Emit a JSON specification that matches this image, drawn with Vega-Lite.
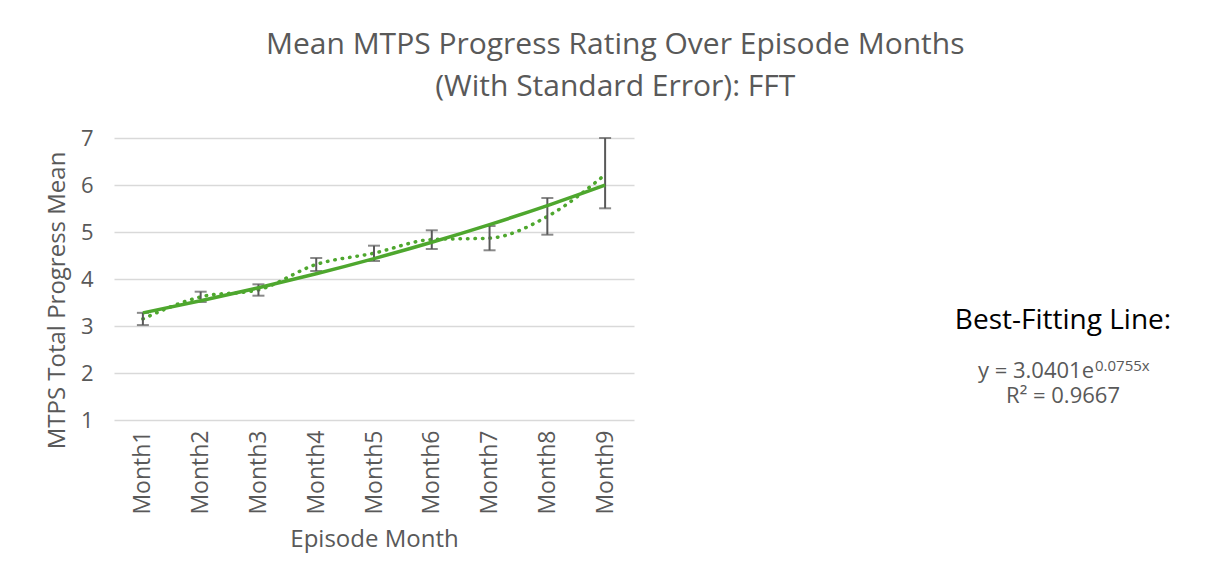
{
  "$schema": "https://vega.github.io/schema/vega-lite/v6.json",
  "background": "white",
  "padding": {"left": 45, "top": 30, "right": 0, "bottom": 12},
  "title": {
    "text": ["Mean MTPS Progress Rating Over Episode Months", "(With Standard Error): FFT"],
    "font": "Open Sans",
    "fontSize": 30,
    "fontWeight": "normal",
    "color": "#595959",
    "anchor": "middle",
    "lineHeight": 42,
    "offset": 25,
    "dx": -14
  },
  "datasets": {
    "months": [
      {"month": "Month1", "mean": 3.15, "lo": 3.02, "hi": 3.28, "trend": 3.2785},
      {"month": "Month2", "mean": 3.62, "lo": 3.51, "hi": 3.73, "trend": 3.5356},
      {"month": "Month3", "mean": 3.77, "lo": 3.645, "hi": 3.887, "trend": 3.8129},
      {"month": "Month4", "mean": 4.31, "lo": 4.17, "hi": 4.447, "trend": 4.1119},
      {"month": "Month5", "mean": 4.55, "lo": 4.383, "hi": 4.709, "trend": 4.4343},
      {"month": "Month6", "mean": 4.84, "lo": 4.638, "hi": 5.036, "trend": 4.782},
      {"month": "Month7", "mean": 4.87, "lo": 4.611, "hi": 5.128, "trend": 5.157},
      {"month": "Month8", "mean": 5.33, "lo": 4.943, "hi": 5.723, "trend": 5.5614},
      {"month": "Month9", "mean": 6.22, "lo": 5.504, "hi": 7.0, "trend": 5.9976}
    ],
    "notes": [
      {"kind": "heading", "label": "Best-Fitting Line:"},
      {"kind": "equation", "label": "y = 3.0401e", "sup": "0.0755x"},
      {"kind": "r2", "label": "R² = 0.9667"}
    ]
  },
  "spacing": 279,
  "hconcat": [
    {
      "data": {"name": "months"},
      "width": 520,
      "height": 282,
      "encoding": {
        "x": {
          "field": "month",
          "type": "ordinal",
          "scale": {"type": "point", "padding": 0.5},
          "axis": {
            "title": "Episode Month",
            "labelAngle": -90,
            "labelFontSize": 23,
            "titleFontSize": 24,
            "ticks": false,
            "domain": false,
            "grid": false,
            "labelPadding": 10,
            "titlePadding": 13
          }
        }
      },
      "layer": [
        {
          "mark": {"type": "line", "color": "#4ea72e", "strokeWidth": 3.5, "strokeDash": [0.5, 7], "strokeCap": "round", "interpolate": "monotone"},
          "encoding": {
            "y": {
              "field": "mean",
              "type": "quantitative",
              "scale": {"domain": [1, 7]},
              "title": "MTPS Total Progress Mean",
              "axis": {
                "values": [1, 2, 3, 4, 5, 6, 7],
                "domain": false,
                "ticks": false,
                "labelFontSize": 22,
                "titleFontSize": 24,
                "labelPadding": 21,
                "titlePadding": 11,
                "titleY": 162,
                "gridColor": "#d9d9d9",
                "gridWidth": 1.5
              }
            }
          }
        },
        {
          "mark": {"type": "rule", "color": "#595959", "strokeWidth": 2},
          "encoding": {
            "y": {"field": "lo", "type": "quantitative", "title": "MTPS Total Progress Mean"},
            "y2": {"field": "hi"}
          }
        },
        {
          "mark": {"type": "tick", "color": "#595959", "thickness": 2, "size": 12, "orient": "horizontal"},
          "encoding": {"y": {"field": "lo", "type": "quantitative", "title": "MTPS Total Progress Mean"}}
        },
        {
          "mark": {"type": "tick", "color": "#595959", "thickness": 2, "size": 12, "orient": "horizontal"},
          "encoding": {"y": {"field": "hi", "type": "quantitative", "title": "MTPS Total Progress Mean"}}
        },
        {
          "mark": {"type": "line", "color": "#4ea72e", "strokeWidth": 3.5, "interpolate": "monotone"},
          "encoding": {"y": {"field": "trend", "type": "quantitative", "title": "MTPS Total Progress Mean"}}
        }
      ]
    },
    {
      "data": {"name": "notes"},
      "width": 300,
      "height": 282,
      "encoding": {
        "y": {
          "field": "kind",
          "type": "nominal",
          "scale": {
            "type": "point",
            "domain": ["s1", "s2", "s3", "s4", "s5", "s6", "s7", "heading", "gap", "equation", "r2"],
            "padding": 0.6,
            "align": 0.22
          },
          "axis": null
        }
      },
      "layer": [
        {
          "transform": [{"filter": "datum.kind === 'heading'"}],
          "mark": {"type": "text", "font": "Open Sans", "fontSize": 28, "color": "#000000", "baseline": "middle"},
          "encoding": {"text": {"field": "label"}}
        },
        {
          "transform": [{"filter": "datum.kind === 'equation'"}],
          "mark": {"type": "text", "font": "Open Sans", "fontSize": 22, "color": "#595959", "baseline": "middle", "align": "right", "dx": 31},
          "encoding": {"text": {"field": "label"}}
        },
        {
          "transform": [{"filter": "datum.kind === 'equation'"}],
          "mark": {"type": "text", "font": "Open Sans", "fontSize": 15, "color": "#595959", "baseline": "middle", "align": "left", "dx": 32, "dy": -5},
          "encoding": {"text": {"field": "sup"}}
        },
        {
          "transform": [{"filter": "datum.kind === 'r2'"}],
          "mark": {"type": "text", "font": "Open Sans", "fontSize": 22, "color": "#595959", "baseline": "middle"},
          "encoding": {"text": {"field": "label"}}
        }
      ]
    }
  ],
  "config": {
    "view": {"stroke": null},
    "font": "Open Sans",
    "axis": {
      "labelFont": "Open Sans",
      "titleFont": "Open Sans",
      "labelColor": "#595959",
      "titleColor": "#595959",
      "titleFontWeight": "normal"
    }
  }
}
